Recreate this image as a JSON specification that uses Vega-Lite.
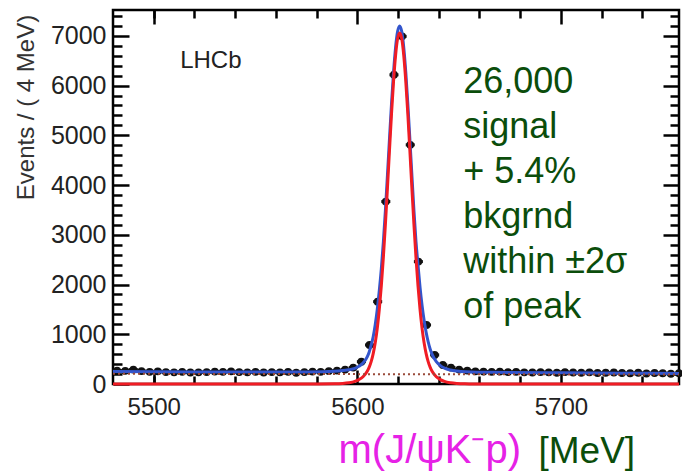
{
  "$schema": "https://vega.github.io/schema/vega-lite/v6.json",
  "width": 566,
  "height": 374,
  "autosize": "none",
  "padding": {"left": 113, "top": 10, "right": 3, "bottom": 92},
  "background": "white",
  "config": {
    "view": {"stroke": "#000", "strokeWidth": 2.5},
    "axis": {"grid": false, "labelFont": "Liberation Sans", "titleFont": "Liberation Sans", "tickColor": "#000", "tickWidth": 2.5, "domain": false, "zindex": 1, "format": "d"},
    "text": {"font": "Liberation Sans"}
  },
  "datasets": {
    "pts": [
      {"m":5482,"n":270},{"m":5486,"n":265},{"m":5490,"n":290},{"m":5494,"n":260},{"m":5498,"n":245},{"m":5502,"n":255},{"m":5506,"n":240},{"m":5510,"n":235},{"m":5514,"n":245},{"m":5518,"n":230},
      {"m":5522,"n":235},{"m":5526,"n":240},{"m":5530,"n":250},{"m":5534,"n":245},{"m":5538,"n":255},{"m":5542,"n":240},{"m":5546,"n":235},{"m":5550,"n":245},{"m":5554,"n":230},{"m":5558,"n":240},
      {"m":5562,"n":235},{"m":5566,"n":245},{"m":5570,"n":225},{"m":5574,"n":240},{"m":5578,"n":250},{"m":5582,"n":245},{"m":5586,"n":260},{"m":5590,"n":270},{"m":5594,"n":290},{"m":5598,"n":330},
      {"m":5602,"n":449},{"m":5606,"n":785},{"m":5610,"n":1656},{"m":5614,"n":3668},{"m":5618,"n":6217},{"m":5622,"n":6990},{"m":5626,"n":4809},{"m":5630,"n":2461},{"m":5634,"n":1187},{"m":5638,"n":584},
      {"m":5642,"n":382},{"m":5646,"n":330},{"m":5650,"n":290},{"m":5654,"n":270},{"m":5658,"n":255},{"m":5662,"n":250},{"m":5666,"n":245},{"m":5670,"n":250},{"m":5674,"n":240},{"m":5678,"n":245},
      {"m":5682,"n":235},{"m":5686,"n":230},{"m":5690,"n":240},{"m":5694,"n":235},{"m":5698,"n":225},{"m":5702,"n":240},{"m":5706,"n":230},{"m":5710,"n":225},{"m":5714,"n":235},{"m":5718,"n":220},
      {"m":5722,"n":225},{"m":5726,"n":230},{"m":5730,"n":220},{"m":5734,"n":215},{"m":5738,"n":225},{"m":5742,"n":210},{"m":5746,"n":220},{"m":5750,"n":215},{"m":5754,"n":205},{"m":5758,"n":215}
    ],
    "blue": [
      {"m":5480,"v":250},{"m":5500,"v":246},{"m":5520,"v":243},{"m":5540,"v":241},{"m":5560,"v":240},{"m":5575.8,"v":242},{"m":5585.8,"v":250},{"m":5590.8,"v":262},{"m":5595.8,"v":285},{"m":5598.8,"v":315},
      {"m":5600.8,"v":355},{"m":5602.8,"v":420},{"m":5604.8,"v":540},{"m":5605.8,"v":640},{"m":5606.8,"v":780},{"m":5607.8,"v":950},{"m":5608.8,"v":1190},{"m":5609.8,"v":1500},{"m":5610.8,"v":1880},{"m":5611.8,"v":2320},
      {"m":5612.8,"v":2860},{"m":5613.8,"v":3490},{"m":5614.8,"v":4200},{"m":5615.8,"v":4930},{"m":5616.8,"v":5640},{"m":5617.8,"v":6270},{"m":5618.8,"v":6770},{"m":5619.8,"v":7090},{"m":5620.8,"v":7200},{"m":5621.8,"v":7090},
      {"m":5622.8,"v":6770},{"m":5623.8,"v":6270},{"m":5624.8,"v":5640},{"m":5625.8,"v":4930},{"m":5626.8,"v":4200},{"m":5627.8,"v":3490},{"m":5628.8,"v":2870},{"m":5629.8,"v":2400},{"m":5630.8,"v":1950},{"m":5631.8,"v":1580},
      {"m":5632.8,"v":1280},{"m":5633.8,"v":1040},{"m":5634.8,"v":850},{"m":5635.8,"v":700},{"m":5636.8,"v":590},{"m":5638.8,"v":450},{"m":5640.8,"v":370},{"m":5642.8,"v":320},{"m":5645.8,"v":280},{"m":5650.8,"v":252},
      {"m":5655.8,"v":240},{"m":5665.8,"v":234},{"m":5700,"v":225},{"m":5730,"v":218},{"m":5758,"v":212}
    ],
    "red": [
      {"m":5480,"v":0},{"m":5570,"v":0},{"m":5580.8,"v":1},{"m":5588.8,"v":3},{"m":5592.8,"v":10},{"m":5595.8,"v":24},{"m":5598.8,"v":52},{"m":5600.8,"v":88},{"m":5602.8,"v":146},{"m":5604.8,"v":250},
      {"m":5605.8,"v":333},{"m":5606.8,"v":449},{"m":5607.8,"v":610},{"m":5608.8,"v":829},{"m":5609.8,"v":1119},{"m":5610.8,"v":1500},{"m":5611.8,"v":1976},{"m":5612.8,"v":2551},{"m":5613.8,"v":3212},{"m":5614.8,"v":3942},
      {"m":5615.8,"v":4700},{"m":5616.8,"v":5435},{"m":5617.8,"v":6091},{"m":5618.8,"v":6610},{"m":5619.8,"v":6945},{"m":5620.8,"v":7060},{"m":5621.8,"v":6945},{"m":5622.8,"v":6610},{"m":5623.8,"v":6091},{"m":5624.8,"v":5435},
      {"m":5625.8,"v":4700},{"m":5626.8,"v":3942},{"m":5627.8,"v":3212},{"m":5628.8,"v":2551},{"m":5629.8,"v":1976},{"m":5630.8,"v":1500},{"m":5631.8,"v":1119},{"m":5632.8,"v":829},{"m":5633.8,"v":610},{"m":5634.8,"v":449},
      {"m":5635.8,"v":333},{"m":5636.8,"v":250},{"m":5638.8,"v":146},{"m":5640.8,"v":88},{"m":5642.8,"v":52},{"m":5645.8,"v":24},{"m":5648.8,"v":10},{"m":5652.8,"v":3},{"m":5660.8,"v":1},{"m":5672,"v":0},{"m":5758,"v":0}
    ],
    "bg": [
      {"m":5480,"v":205},{"m":5758,"v":190}
    ],
    "lhcb": [{"t":"LHCb"}],
    "note": [{"t":["26,000","signal","+ 5.4%","bkgrnd","within ±2σ","of peak"]}]
  },
  "layer": [
    {
      "data": {"name": "pts"},
      "mark": {"type": "circle", "size": 62, "color": "#111", "opacity": 1},
      "encoding": {
        "x": {"field": "m", "type": "quantitative", "scale": {"domain": [5480, 5758], "nice": false, "zero": false},
              "axis": {"orient": "bottom", "ticks": false, "labels": false, "title": "[MeV]", "titleColor": "#0b4d0b", "titleFontSize": 37, "titleFontWeight": "normal", "titleAlign": "left", "titleAnchor": "start", "titleBaseline": "alphabetic", "titleX": 425, "titleY": 78}},
        "y": {"field": "n", "type": "quantitative", "scale": {"domain": [0, 7520], "nice": false}, "axis": null}
      }
    },
    {
      "data": {"name": "pts"},
      "mark": {"type": "tick", "orient": "horizontal", "size": 9, "thickness": 3, "color": "#111", "opacity": 1},
      "encoding": {
        "x": {"field": "m", "type": "quantitative", "scale": {"domain": [5480, 5758], "nice": false, "zero": false},
              "axis": {"orient": "top", "offset": -8, "values": [5500,5520,5540,5560,5580,5620,5640,5660,5680,5720,5740], "tickSize": 8, "labels": false, "title": null}},
        "y": {"field": "n", "type": "quantitative", "scale": {"domain": [0, 7520], "nice": false},
              "axis": {"orient": "right", "offset": -9, "values": [200,400,600,800,1200,1400,1600,1800,2200,2400,2600,2800,3200,3400,3600,3800,4200,4400,4600,4800,5200,5400,5600,5800,6200,6400,6600,6800,7200,7400], "tickSize": 9, "labels": false, "title": null}}
      }
    },
    {
      "data": {"name": "blue"},
      "mark": {"type": "line", "color": "#3355cc", "strokeWidth": 3, "interpolate": "monotone"},
      "encoding": {
        "x": {"field": "m", "type": "quantitative", "scale": {"domain": [5480, 5758], "nice": false, "zero": false},
              "axis": {"orient": "top", "offset": -14, "values": [5500, 5600, 5700], "tickSize": 14, "labels": false, "title": null}},
        "y": {"field": "v", "type": "quantitative", "scale": {"domain": [0, 7520], "nice": false},
              "axis": {"orient": "right", "offset": -16, "values": [1000,2000,3000,4000,5000,6000,7000], "tickSize": 16, "labels": false, "title": null}}
      }
    },
    {
      "data": {"name": "red"},
      "mark": {"type": "line", "color": "#f01c24", "strokeWidth": 3, "interpolate": "monotone"},
      "encoding": {
        "x": {"field": "m", "type": "quantitative", "scale": {"domain": [5480, 5758], "nice": false, "zero": false},
              "axis": {"orient": "bottom", "offset": -8, "values": [5500,5520,5540,5560,5580,5620,5640,5660,5680,5720,5740], "tickSize": 8, "labels": false, "title": null}},
        "y": {"field": "v", "type": "quantitative", "scale": {"domain": [0, 7520], "nice": false},
              "axis": {"orient": "left", "offset": -9, "values": [200,400,600,800,1200,1400,1600,1800,2200,2400,2600,2800,3200,3400,3600,3800,4200,4400,4600,4800,5200,5400,5600,5800,6200,6400,6600,6800,7200,7400], "tickSize": 9, "labels": false, "title": null}}
      }
    },
    {
      "data": {"name": "bg"},
      "mark": {"type": "line", "color": "#9a4a3a", "strokeWidth": 2, "strokeDash": [2, 3]},
      "encoding": {
        "x": {"field": "m", "type": "quantitative", "scale": {"domain": [5480, 5758], "nice": false, "zero": false},
              "axis": {"orient": "bottom", "offset": -14, "values": [5500, 5600, 5700], "tickSize": 14, "labelFontSize": 24, "labelColor": "#222", "labelPadding": 11, "labelFlush": false,
                       "title": "m(J/ψK⁻p)", "titleColor": "#e622e6", "titleFontSize": 40, "titleFontWeight": "normal", "titleAlign": "left", "titleAnchor": "start", "titleBaseline": "alphabetic", "titleX": 225, "titleY": 92}},
        "y": {"field": "v", "type": "quantitative", "scale": {"domain": [0, 7520], "nice": false},
              "axis": {"orient": "left", "offset": -16, "values": [0,1000,2000,3000,4000,5000,6000,7000], "tickSize": 16, "labelFontSize": 25, "labelColor": "#222", "labelPadding": 7,
                       "title": "Events / ( 4 MeV)", "titleColor": "#333", "titleFontSize": 24, "titleFontWeight": "normal", "titleAngle": -90, "titleAlign": "center", "titleBaseline": "alphabetic", "titleX": -96, "titleY": 97}}
      }
    },
    {
      "data": {"name": "lhcb"},
      "mark": {"type": "text", "align": "left", "baseline": "alphabetic", "fontSize": 24, "color": "#222"},
      "encoding": {
        "x": {"datum": 5513, "type": "quantitative", "axis": null},
        "y": {"datum": 6358, "type": "quantitative", "axis": null},
        "text": {"field": "t"}
      }
    },
    {
      "data": {"name": "note"},
      "mark": {"type": "text", "align": "left", "baseline": "alphabetic", "fontSize": 36, "lineHeight": 45, "color": "#0b4d0b"},
      "encoding": {
        "x": {"datum": 5652, "type": "quantitative", "axis": null},
        "y": {"datum": 5855, "type": "quantitative", "axis": null},
        "text": {"field": "t"}
      }
    }
  ],
  "resolve": {"axis": {"x": "independent", "y": "independent"}}
}
